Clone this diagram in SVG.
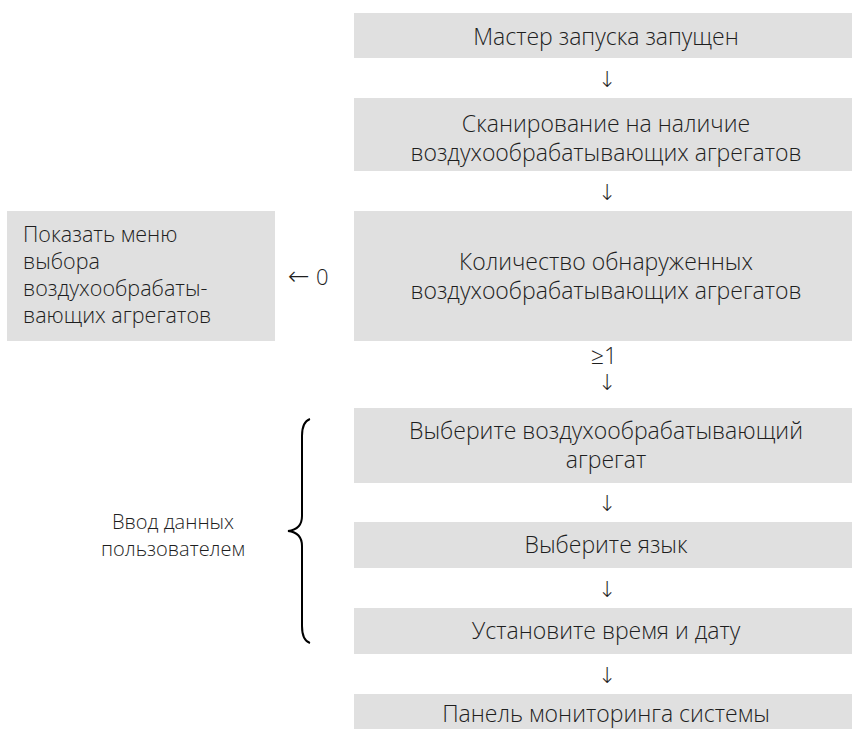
<svg xmlns="http://www.w3.org/2000/svg" width="852" height="729" viewBox="0 0 852 729">
<style>
.box{fill:#e0e0e0}
text{font-family:"Open Sans","Noto Sans",sans-serif;font-weight:300;font-size:23px;fill:#1e1e1e}
.c{text-anchor:middle}
.l{font-size:21.5px}
.u{font-size:20px}
.arr{font-family:"DejaVu Sans",sans-serif;font-weight:200;font-size:22px}
</style>
<rect width="852" height="729" fill="#ffffff"/>
<g id="n1"><rect class="box" x="354" y="13" width="498" height="45"/><text class="c" x="606" y="45">Мастер запуска запущен</text></g>
<g id="n2"><rect class="box" x="354" y="98" width="498" height="73"/><text class="c" x="606" y="132">Сканирование на наличие</text><text class="c" x="606" y="161">воздухообрабатывающих агрегатов</text></g>
<g id="n3"><rect class="box" x="354" y="211" width="498" height="130"/><text class="c" x="606" y="270">Количество обнаруженных</text><text class="c" x="606" y="299">воздухообрабатывающих агрегатов</text></g>
<g id="n0"><rect class="box" x="7" y="211" width="268" height="130"/><text class="l" x="23" y="242">Показать меню</text><text class="l" x="23" y="269">выбора</text><text class="l" x="23" y="296">воздухообрабаты-</text><text class="l" x="23" y="323">вающих агрегатов</text></g>
<g id="n4"><rect class="box" x="354" y="408" width="498" height="75"/><text class="c" x="606" y="439">Выберите воздухообрабатывающий</text><text class="c" x="606" y="468">агрегат</text></g>
<g id="n5"><rect class="box" x="354" y="522" width="498" height="46"/><text class="c" x="606" y="553">Выберите язык</text></g>
<g id="n6"><rect class="box" x="354" y="608" width="498" height="46"/><text class="c" x="606" y="639">Установите время и дату</text></g>
<g id="n7"><rect class="box" x="354" y="694" width="498" height="46"/><text class="c" x="606" y="722">Панель мониторинга системы</text></g>
<g id="user"><text class="c u" x="173" y="529">Ввод данных</text><text class="c u" x="173" y="556">пользователем</text>
<path d="M310,419 C304,421 302,428 302,436 L302,516 C302,525 297,530 288,531 C297,532 302,537 302,546 L302,626 C302,634 304,641 310,643" fill="none" stroke="#000" stroke-width="2"/></g>
<g id="connectors">
<text class="c arr" x="607" y="87">↓</text>
<text class="c arr" x="607" y="200">↓</text>
<text class="arr" x="288" y="285" style="font-size:26px">←</text><text x="316" y="285" style="font-size:22px">0</text>
<text class="c" x="604" y="364">≥1</text>
<text class="c arr" x="607" y="390">↓</text>
<text class="c arr" x="607" y="511">↓</text>
<text class="c arr" x="607" y="597">↓</text>
<text class="c arr" x="607" y="683">↓</text>
</g>
</svg>
